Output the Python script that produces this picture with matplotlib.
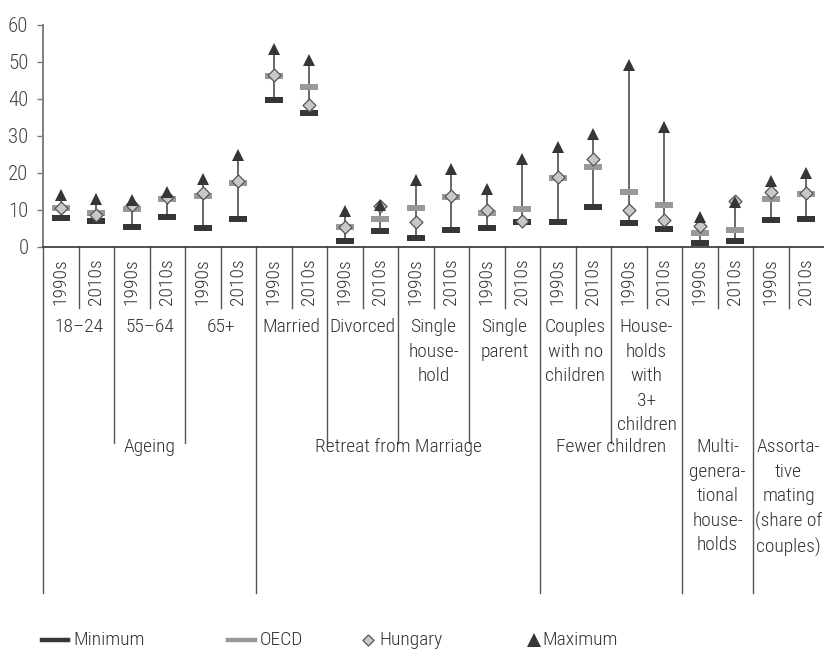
import matplotlib
matplotlib.use('Agg')
import matplotlib.pyplot as plt
import matplotlib.transforms as mtransforms
from matplotlib.lines import Line2D
from matplotlib import font_manager

# --- data ---
decades = ['1990s', '2010s'] * 11
subgroups = ['18–24', '55–64', '65+', 'Married', 'Divorced',
             'Single\nhouse-\nhold', 'Single\nparent', 'Couples\nwith no\nchildren',
             'House-\nholds\nwith\n3+\nchildren', '', '']
groups = ['Ageing', 'Retreat from Marriage', 'Fewer children',
          'Multi-\ngenera-\ntional\nhouse-\nholds',
          'Assorta-\ntive\nmating\n(share of\ncouples)']
group_sizes = [3, 4, 2, 1, 1]  # number of subgroups per group

minimum = [7.8, 7.0, 5.3, 8.0, 5.1, 7.6, 39.6, 36.2, 1.6, 4.2, 2.4,
           4.5, 5.1, 6.8, 6.6, 10.8, 6.5, 4.8, 0.9, 1.6, 7.2, 7.4]
oecd = [10.4, 9.0, 10.1, 12.9, 13.8, 17.2, 46.3, 43.3, 5.4, 7.4, 10.4,
        13.4, 9.0, 10.1, 18.6, 21.7, 14.9, 11.2, 3.8, 4.4, 12.8, 14.3]
hungary = [10.6, 8.6, 11.3, 13.5, 14.6, 17.9, 46.6, 38.3, 5.4, 11.0, 6.6,
           13.8, 9.9, 7.0, 18.9, 23.6, 9.9, 7.2, 5.6, 12.5, 14.9, 14.6]
maximum = [14.0, 12.8, 12.6, 14.9, 18.4, 24.7, 53.5, 50.5, 9.7, 11.3, 18.0,
           20.9, 15.6, 23.6, 27.1, 30.4, 49.2, 32.5, 8.1, 12.2, 17.8, 19.9]

W, H = 824, 657
TXT = '#333333'
DARK = '#363636'
MID = '#999999'
LIGHT = '#c8c8c8'

# condensed face if there is one, otherwise a smaller regular sans
installed = {f.name for f in font_manager.fontManager.ttflist}
FONT, FS = ['Liberation Sans', 'DejaVu Sans'], 12
for cand in ['Roboto Condensed', 'Liberation Sans Narrow', 'Open Sans Condensed']:
    if cand in installed:
        FONT, FS = [cand, 'DejaVu Sans'], 14
        break
LSP = 24.5 / (0.857 * FS * 100 / 72)
WT = 'light'

bar_marker = [(-1, -0.32), (1, -0.32), (1, 0.32), (-1, 0.32), (-1, -0.32)]
diamond = [(0, 1), (1, 0), (0, -1), (-1, 0), (0, 1)]

fig = plt.figure(figsize=(W / 100, H / 100), dpi=100)
y0, y60 = 246.7, 25.0
ax = fig.add_axes([43 / W, 1 - y0 / H, (W - 43) / W, (y0 - y60) / H])


def ay(py):
    # pixel row -> axes fraction
    return (y0 - py) / (y0 - y60)


x = list(range(len(decades)))
for i in x:
    ax.plot([i, i], [minimum[i], maximum[i]], color='#404040', lw=1.1, zorder=2)
ax.plot(x, minimum, ls='none', marker=bar_marker, ms=12.5, color=DARK, mew=0, zorder=3)
ax.plot(x, oecd, ls='none', marker=bar_marker, ms=12.5, color=MID, mew=0, zorder=4)
ax.plot(x, hungary, ls='none', marker=diamond, ms=9.3, mfc=LIGHT, mec='#555555',
        mew=0.9, zorder=5)
ax.plot(x, maximum, ls='none', marker='^', ms=8, color=DARK, mew=0, zorder=6)

ax.set_xlim(-0.5, len(x) - 0.5)
ax.set_ylim(0, 60)
ax.set_yticks(range(0, 61, 10))
ax.set_xticks([])
ax.tick_params(axis='y', length=4.5, width=1, color='#777777', pad=6)
for lbl in ax.get_yticklabels():
    lbl.set_family(FONT)
    lbl.set_fontsize(FS + 1)
    lbl.set_fontweight(WT)
    lbl.set_color('#444444')
for s in ['top', 'right']:
    ax.spines[s].set_visible(False)
ax.spines['left'].set_color('#808080')
ax.spines['left'].set_linewidth(1.4)
ax.spines['bottom'].set_color('#333333')
ax.spines['bottom'].set_linewidth(1.2)

# --- multi-level category axis ---
trans = mtransforms.blended_transform_factory(ax.transData, ax.transAxes)
group_edges = [0]
for g in group_sizes:
    group_edges.append(group_edges[-1] + 2 * g)
for k in range(0, len(x)):
    if k in group_edges:
        bottom = 593
    elif k % 2 == 0:
        bottom = 443
    else:
        bottom = 308
    ax.plot([k - 0.5, k - 0.5], [0, ay(bottom)], transform=trans, clip_on=False,
            color='#555555', lw=1)

for i, d in enumerate(decades):
    ax.text(i, ay(282), d, transform=trans, rotation=90, ha='center', va='center',
            fontsize=FS, family=FONT, weight=WT, color=TXT)
for j, s in enumerate(subgroups):
    ax.text(2 * j + 0.5, ay(318), s, transform=trans, ha='center', va='top',
            fontsize=FS, family=FONT, weight=WT, color=TXT, linespacing=LSP)
for g, lab in enumerate(groups):
    cx = (group_edges[g] + group_edges[g + 1] - 1) / 2
    ax.text(cx, ay(438), lab, transform=trans, ha='center', va='top',
            fontsize=FS, family=FONT, weight=WT, color=TXT, linespacing=LSP)

# --- legend ---
ly = 1 - 640 / H
fig.add_artist(Line2D([42 / W, 68 / W], [ly, ly], color=DARK, lw=3.2))
fig.add_artist(Line2D([228 / W, 255 / W], [ly, ly], color=MID, lw=3.2))
fig.add_artist(Line2D([368 / W], [ly], marker=diamond, ms=8, mfc=LIGHT,
                      mec='#555555', mew=0.9, ls='none'))
fig.add_artist(Line2D([534 / W], [ly], marker='^', ms=9.5, color=DARK, mew=0, ls='none'))
for px, lab in [(73, 'Minimum'), (260, 'OECD'), (379, 'Hungary'), (542, 'Maximum')]:
    fig.text(px / W, ly, lab, ha='left', va='center', fontsize=FS,
             family=FONT, weight=WT, color=TXT)

fig.savefig('out.png', dpi=100)
